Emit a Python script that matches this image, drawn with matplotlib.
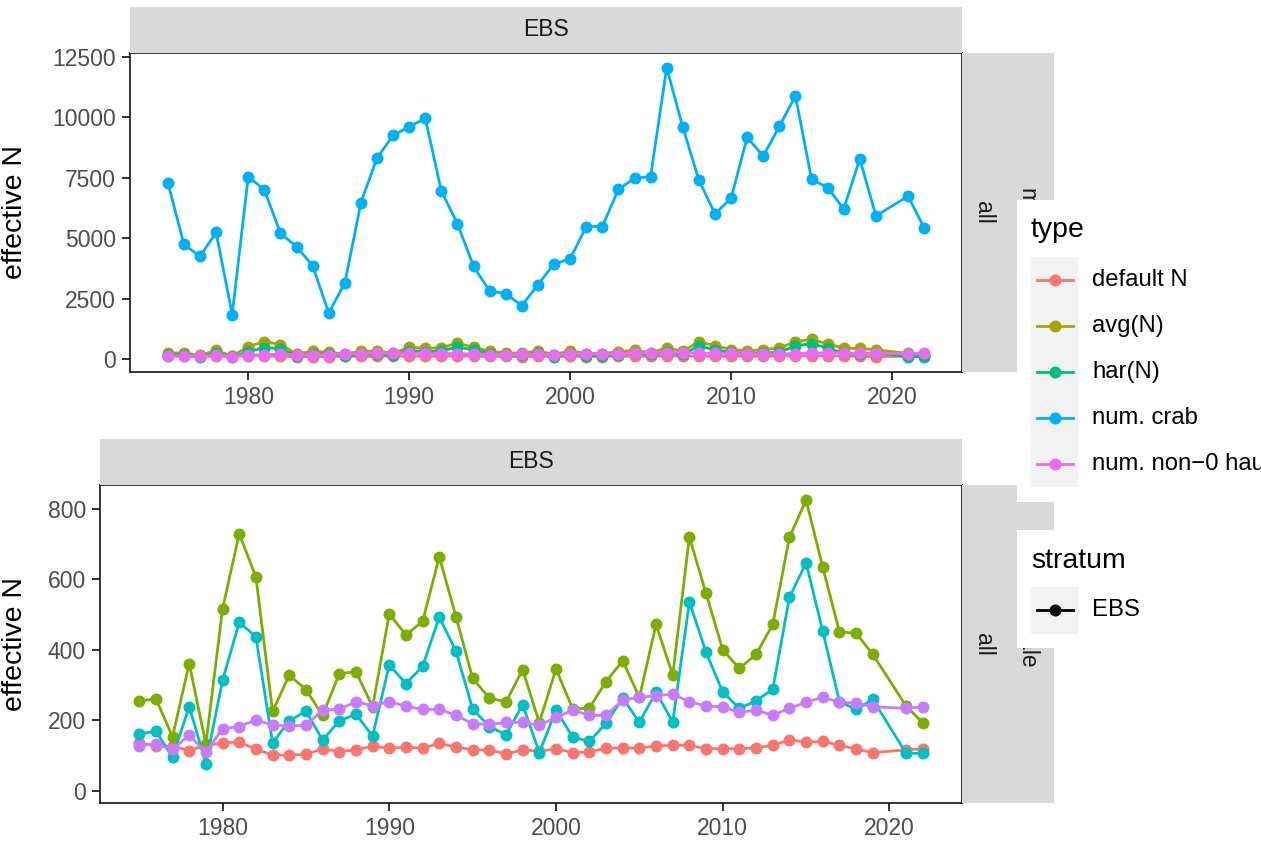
import matplotlib
matplotlib.use("Agg")
import matplotlib.pyplot as plt
from matplotlib.patches import Rectangle
from matplotlib.lines import Line2D
from matplotlib.transforms import Bbox

plt.rcParams['font.family'] = ['Liberation Sans', 'DejaVu Sans']

# ---- data ----
years = [1975, 1976, 1977, 1978, 1979, 1980, 1981, 1982, 1983, 1984,
         1985, 1986, 1987, 1988, 1989, 1990, 1991, 1992, 1993, 1994,
         1995, 1996, 1997, 1998, 1999, 2000, 2001, 2002, 2003, 2004,
         2005, 2006, 2007, 2008, 2009, 2010, 2011, 2012, 2013, 2014,
         2015, 2016, 2017, 2018, 2019, 2021, 2022]

default_n = [135, 128, 126, 114, 128, 136, 138, 118, 101, 101,
             103, 119, 111, 116, 126, 121, 123, 121, 134, 124,
             116, 116, 104, 116, 112, 119, 108, 110, 121, 121,
             121, 127, 129, 129, 119, 119, 119, 122, 129, 144,
             138, 140, 129, 118, 108, 116, 119]
avg_n = [254, 261, 153, 361, 132, 516, 730, 607, 225, 328,
         287, 214, 332, 338, 238, 502, 442, 481, 664, 494,
         319, 263, 252, 344, 193, 346, 232, 234, 310, 369,
         265, 472, 328, 720, 560, 400, 347, 387, 472, 720,
         825, 634, 451, 447, 387, 240, 193]
har_n = [161, 169, 95, 239, 77, 313, 478, 437, 136, 198,
         226, 144, 198, 217, 155, 357, 304, 353, 493, 396,
         232, 182, 159, 244, 108, 229, 152, 140, 191, 263,
         194, 280, 195, 536, 393, 280, 234, 255, 288, 549,
         647, 452, 253, 231, 259, 106, 106]
num_crab = [7300, 4745, 4250, 5240, 1845, 7550, 7000, 5210, 4650, 3865,
            1910, 3150, 6475, 8320, 9255, 9610, 9955, 6945, 5595, 3835,
            2820, 2710, 2215, 3080, 3945, 4140, 5485, 5485, 7025, 7480,
            7550, 12060, 9595, 7410, 6010, 6655, 9170, 8400, 9625, 10890,
            7440, 7095, 6215, 8280, 5925, 6740, 5420]
non0_hauls = [128, 132, 118, 157, 110, 176, 182, 201, 186, 184,
              186, 229, 231, 253, 241, 253, 240, 231, 231, 214,
              190, 188, 194, 194, 186, 208, 229, 214, 214, 257,
              265, 270, 274, 253, 240, 238, 222, 229, 214, 234,
              251, 265, 251, 249, 238, 234, 238]

type_labels = ["default N", "avg(N)", "har(N)", "num. crab", "num. non\u22120 hauls"]
top_series = [default_n, avg_n, har_n, num_crab, non0_hauls]
top_colors = ["#F8766D", "#A3A500", "#00BF7D", "#00B0F6", "#E76BF3"]

bottom_series = [default_n, avg_n, har_n, non0_hauls]
bottom_colors = ["#F8766D", "#7CAE00", "#00BFC4", "#C77CFF"]

W, H = 1261, 843
fig = plt.figure(figsize=(W / 100, H / 100), dpi=100)

def box(l, t, r, b):
    return [l / W, 1 - b / H, (r - l) / W, (b - t) / H]

def fx(x):
    return x / W

def fy(y):
    return 1 - y / H

SMALL = 16.5
LEG = 17.2
BIG = 20.5
LW = 2.0
MS = 7.6

def style_axes(ax, yticks):
    ax.set_xlim(1972.65, 2024.35)
    ax.set_xticks([1980, 1990, 2000, 2010, 2020])
    ax.set_yticks(yticks)
    ax.tick_params(length=6, width=1.4, color="#333333", labelcolor="#4D4D4D",
                   labelsize=SMALL, pad=4)
    for s in ax.spines.values():
        s.set_linewidth(1.1)
        s.set_color("black")
    ax.set_ylabel("effective N", fontsize=BIG, labelpad=8)

ax1 = fig.add_axes(box(130, 53, 962, 372))
for vals, col in zip(top_series, top_colors):
    ax1.plot(years, vals, color=col, lw=LW, marker="o", ms=MS, zorder=3)
ax1.set_ylim(-530, 12660)
style_axes(ax1, [0, 2500, 5000, 7500, 10000, 12500])
ax1.yaxis.set_label_coords(fx(28), fy(212), transform=fig.transFigure)

ax2 = fig.add_axes(box(100, 485, 962, 803))
for vals, col in zip(bottom_series, bottom_colors):
    ax2.plot(years, vals, color=col, lw=LW, marker="o", ms=MS, zorder=3)
ax2.set_ylim(-35, 868)
style_axes(ax2, [0, 200, 400, 600, 800])
ax2.yaxis.set_label_coords(fx(28), fy(644), transform=fig.transFigure)

# ---- facet strips ----
STRIP = "#D9D9D9"

def rect(l, t, r, b, color, z):
    fig.patches.append(Rectangle((fx(l), fy(b)), (r - l) / W, (b - t) / H,
                                 transform=fig.transFigure, facecolor=color,
                                 edgecolor="none", zorder=z))

rect(130, 7, 962, 53, STRIP, 1)
fig.text(fx(546), fy(30), "EBS", ha="center", va="center", fontsize=SMALL,
         color="#1A1A1A", zorder=2)
rect(100, 439, 962, 485, STRIP, 1)
fig.text(fx(531), fy(462), "EBS", ha="center", va="center", fontsize=SMALL,
         color="#1A1A1A", zorder=2)

# second strip label is mostly hidden behind the legends
visible = [(53, 200), (648, 803)]
for (top, bot), (v0, v1) in zip([(53, 372), (485, 803)], visible):
    rect(962, top, 1054, bot, STRIP, 1)
    mid = (top + bot) / 2
    fig.text(fx(983), fy(mid), "all", rotation=-90, ha="center", va="center",
             fontsize=SMALL, color="#1A1A1A", zorder=2)
    t = fig.text(fx(1027), fy(mid), "male", rotation=-90, ha="center", va="center",
                 fontsize=SMALL, color="#1A1A1A", zorder=2)
    t.set_clip_box(Bbox.from_extents(1017, H - v1, 1054, H - v0))
    t.set_clip_on(True)

# ---- legends (drawn over the strips) ----
rect(1017, 200, 1300, 502, "white", 3)
fig.text(fx(1031), fy(230), "type", ha="left", va="center", fontsize=BIG, zorder=4)
rect(1031, 257, 1078, 487, "#F2F2F2", 4)
for i, (lab, col) in enumerate(zip(type_labels, top_colors)):
    y = 280 + 46 * i
    fig.add_artist(Line2D([fx(1037), fx(1073)], [fy(y), fy(y)], color=col, lw=LW,
                          transform=fig.transFigure, zorder=5))
    fig.add_artist(Line2D([fx(1055)], [fy(y)], color=col, marker="o", ms=MS,
                          transform=fig.transFigure, zorder=5))
    fig.text(fx(1092), fy(y), lab, ha="left", va="center", fontsize=LEG, zorder=5)

rect(1017, 530, 1300, 648, "white", 3)
fig.text(fx(1031), fy(561), "stratum", ha="left", va="center", fontsize=BIG, zorder=4)
rect(1031, 587, 1078, 634, "#F2F2F2", 4)
fig.add_artist(Line2D([fx(1037), fx(1073)], [fy(610), fy(610)], color="black", lw=LW,
                      transform=fig.transFigure, zorder=5))
fig.add_artist(Line2D([fx(1055)], [fy(610)], color="black", marker="o", ms=MS,
                      transform=fig.transFigure, zorder=5))
fig.text(fx(1092), fy(610), "EBS", ha="left", va="center", fontsize=LEG, zorder=5)

fig.savefig("out.png", dpi=100)
